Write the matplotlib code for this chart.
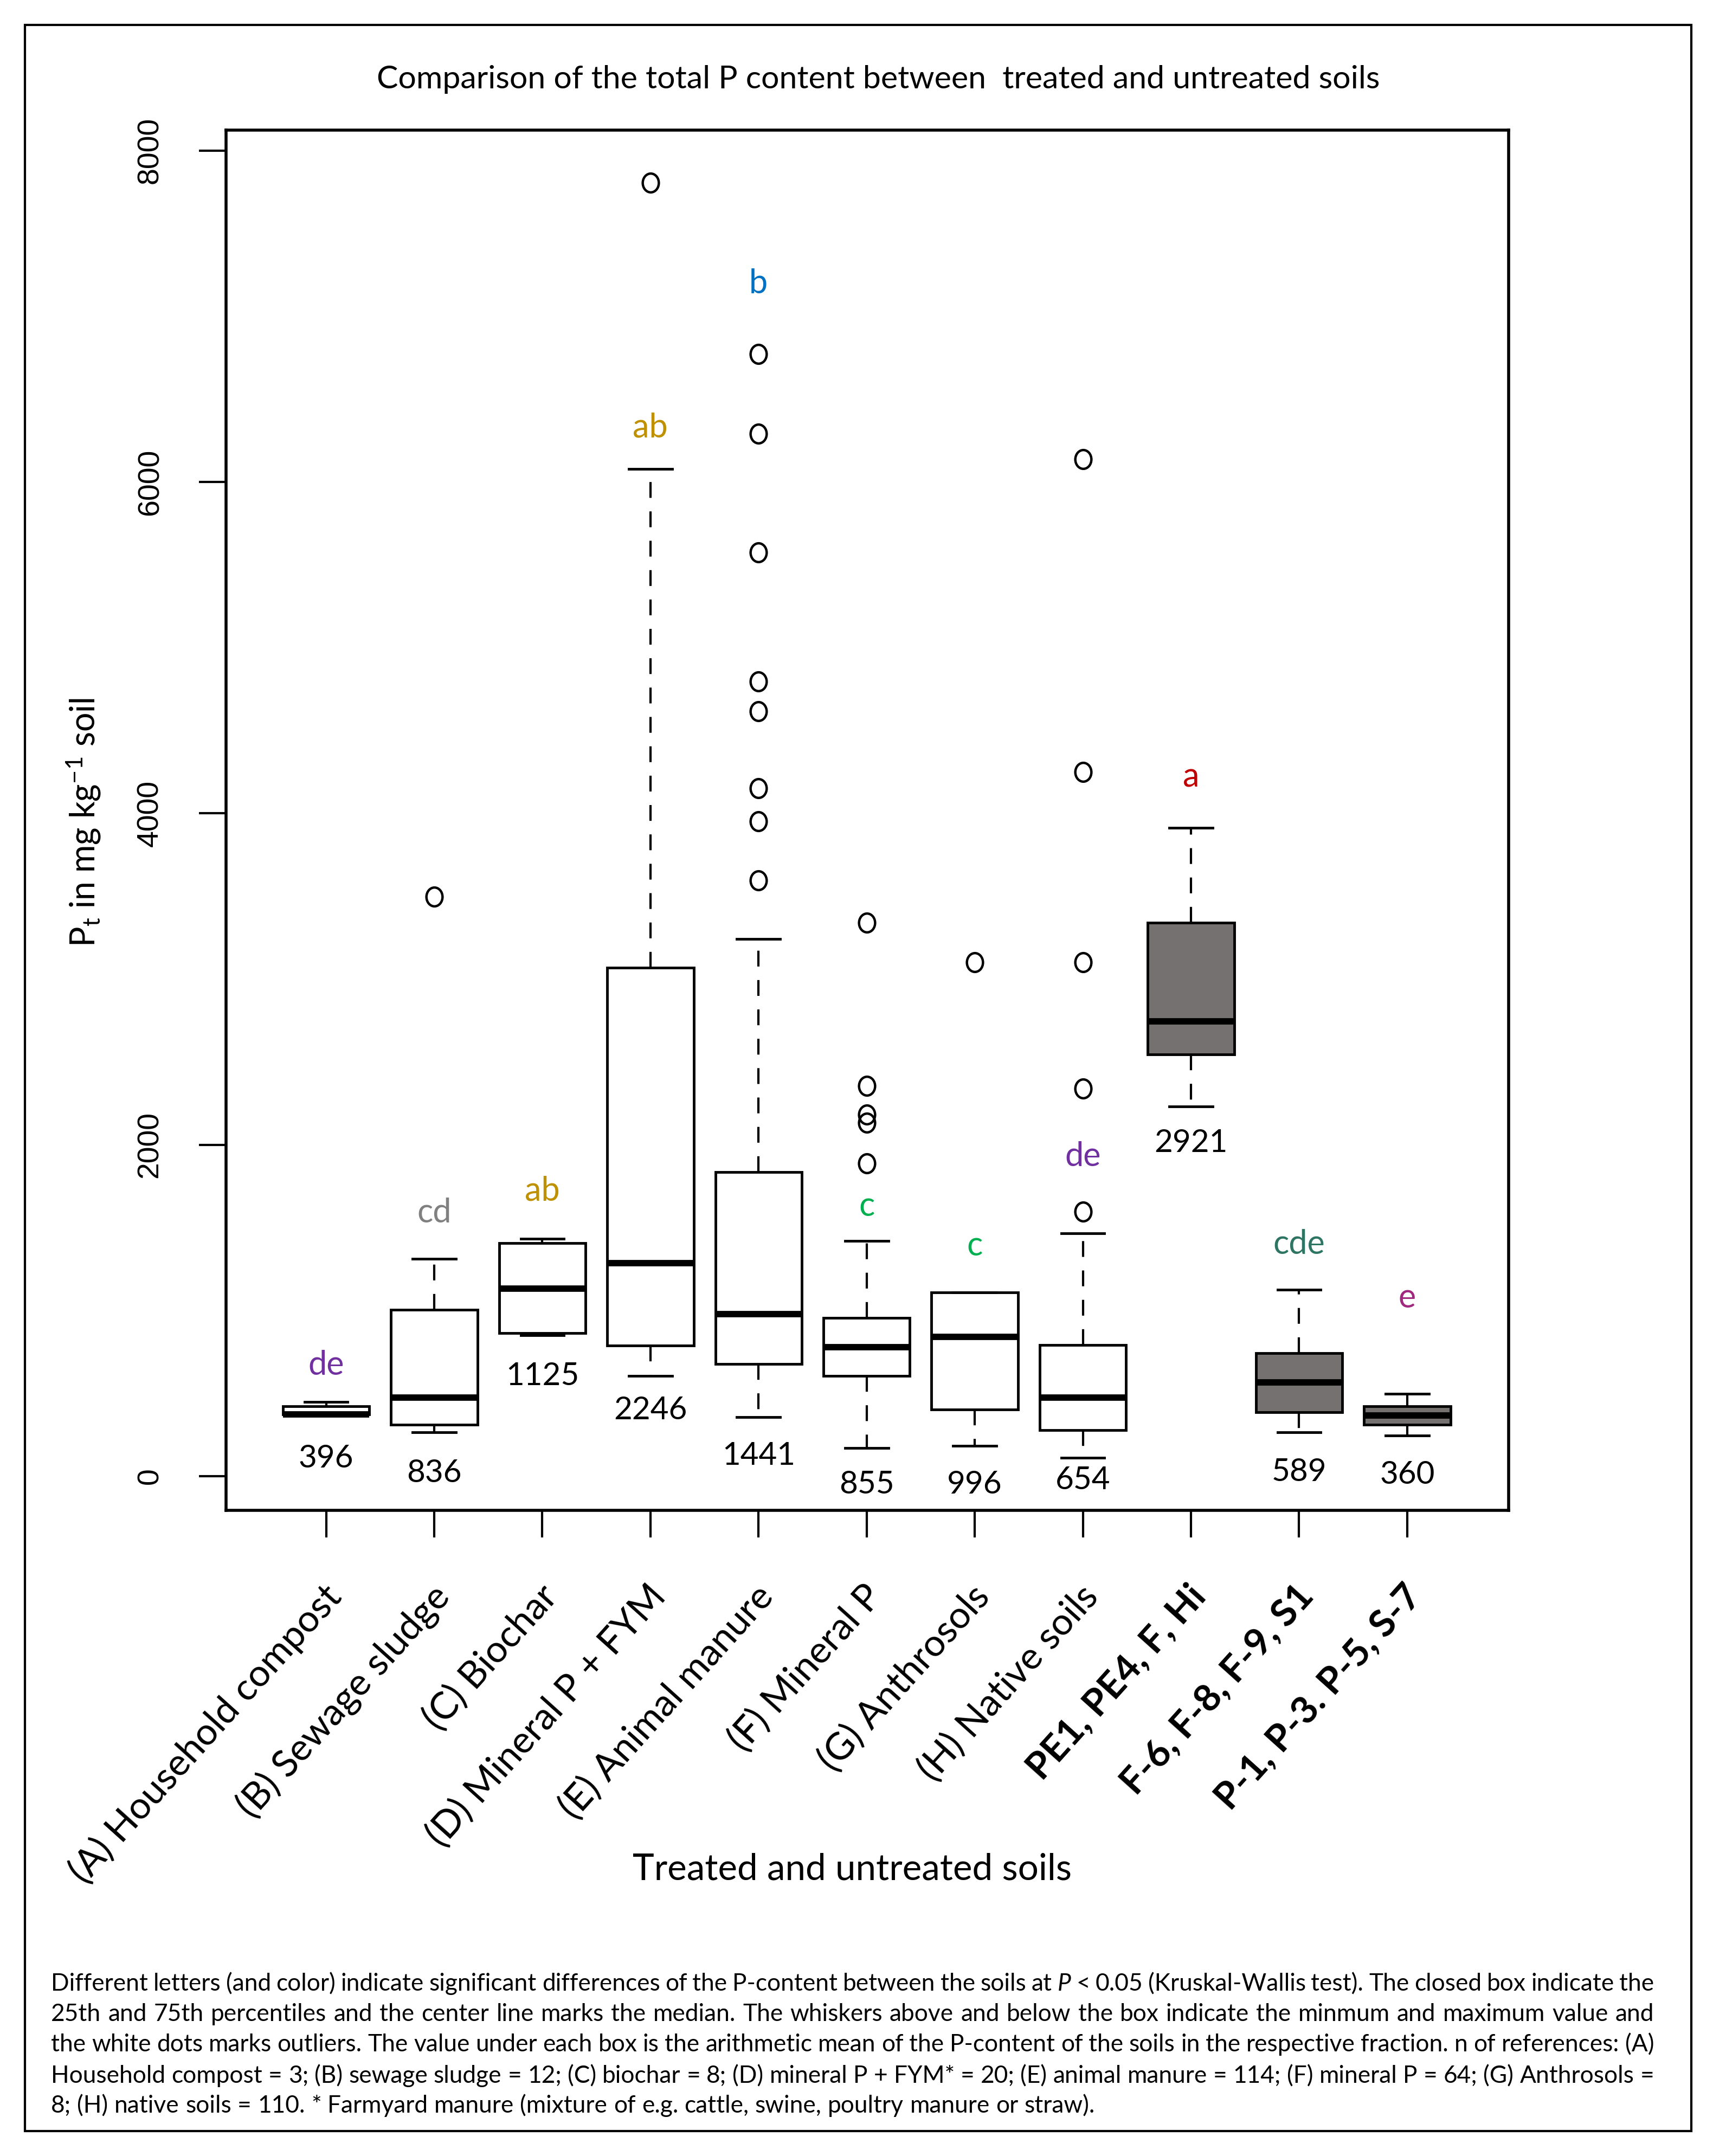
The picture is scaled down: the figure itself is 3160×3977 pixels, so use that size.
import matplotlib
matplotlib.use("Agg")
import matplotlib.pyplot as plt
from matplotlib.patches import Rectangle
from matplotlib.path import Path
from matplotlib.transforms import Affine2D, blended_transform_factory

# ---- data (mg/kg) ----
groups = ["(A) Household compost", "(B) Sewage sludge", "(C) Biochar",
          "(D) Mineral P + FYM", "(E) Animal manure", "(F) Mineral P",
          "(G) Anthrosols", "(H) Native soils", "PE1, PE4, F, Hi",
          "F-6, F-8, F-9, S1", "P-1, P-3. P-5, S-7"]
whis_low = [372, 264, 849, 604, 357, 171, 184, 110, 2232, 264, 245]
q1 = [372, 310, 862, 789, 678, 604, 403, 279, 2545, 386, 310]
median = [372, 474, 1133, 1287, 979, 780, 841, 474, 2746, 566, 366]
q3 = [421, 1005, 1406, 3068, 1835, 956, 1110, 791, 3341, 743, 421]
whis_high = [448, 1311, 1434, 6078, 3242, 1419, 1110, 1465, 3912, 1125, 496]
outliers = [[], [3498], [], [7807],
            [6773, 6293, 5574, 4797, 4615, 4151, 3953, 3597],
            [3341, 2357, 2183, 2134, 1886], [3101],
            [6136, 4251, 3101, 2340, 1596], [], [], []]
means = [396, 836, 1125, 2246, 1441, 855, 996, 654, 2921, 589, 360]
letters = ["de", "cd", "ab", "ab", "b", "c", "c", "de", "a", "cde", "e"]
measured = [False] * 8 + [True] * 3

letter_colors = {"de": "#7030A0", "cd": "#808080", "ab": "#BF9000",
                 "b": "#0070C0", "c": "#00B050", "a": "#C00000",
                 "cde": "#2E7563", "e": "#A0287E"}

plt.rcParams["mathtext.fontset"] = "custom"
plt.rcParams["mathtext.rm"] = "Lato"
plt.rcParams["mathtext.it"] = "Lato:italic"

W, H = 3160, 3977
fig = plt.figure(figsize=(W / 100, H / 100), dpi=100)
ax = fig.add_axes([165 / 1250, 1 - 1102 / 1573, 936 / 1250, 1007 / 1573])

# the original picture is slightly stretched vertically -> oval outlier marks
oval = Path.unit_circle().transformed(Affine2D().scale(1, 1.17))

pos = list(range(1, len(groups) + 1))
stats = []
for i in range(len(groups)):
    stats.append(dict(whislo=whis_low[i], q1=q1[i], med=median[i], q3=q3[i],
                      whishi=whis_high[i], fliers=outliers[i]))

bp = ax.bxp(stats, positions=pos, widths=0.8, capwidths=0.4, patch_artist=True,
            boxprops=dict(lw=3.5, edgecolor="black"),
            medianprops=dict(lw=8.5, color="black", solid_capstyle="butt"),
            whiskerprops=dict(lw=3, linestyle=(0, (7, 6)), color="black"),
            capprops=dict(lw=3.5, color="black"),
            flierprops=dict(marker=oval, markerfacecolor="none", markeredgecolor="black",
                            markersize=25, markeredgewidth=3.2))
for box, filled in zip(bp["boxes"], measured):
    box.set_facecolor("#767171" if filled else "white")

# letters and means (label heights placed as in the original figure)
letter_y = [670, 1588, 1720, 6327, 7195, 1629, 1389, 1927, 4218, 1398, 1075]
mean_y = [107, 17, 604, 397, 124, -50, -50, -25, 2010, 25, 8]
for p, lt, ly, m, my in zip(pos, letters, letter_y, means, mean_y):
    ax.text(p, ly, lt, ha="center", va="center", fontsize=44, family="Lato",
            color=letter_colors[lt])
    ax.text(p, my, str(m), ha="center", va="center", fontsize=42, family="Lato",
            color="black")

ax.set_xlim(0.075, 11.94)
ax.set_ylim(-207, 8123)
ax.set_yticks([0, 2000, 4000, 6000, 8000])
ax.set_yticklabels(["0", "2000", "4000", "6000", "8000"], rotation=90, va="center",
                   family="Liberation Sans", fontsize=40)
ax.set_xticks(pos)
ax.set_xticklabels([""] * len(pos))
ax.tick_params(axis="both", length=36, width=3, direction="out")
ax.tick_params(axis="y", pad=46)
for s in ax.spines.values():
    s.set_linewidth(4)

trans = blended_transform_factory(ax.transData, ax.transAxes)
for p, g, filled in zip(pos, groups, measured):
    ax.text(p + 0.08, -0.058, g, transform=trans, rotation=48, rotation_mode="anchor",
            ha="right", va="center", fontsize=50, family="Lato",
            fontweight="bold" if filled else "normal")

fig.text(641 / 1250, 1 - 58 / 1573, "Comparison of the total P content between  treated and untreated soils",
         ha="center", va="center", fontsize=42.5, family="Lato")
fig.text(622 / 1250, 1 - 1364 / 1573, "Treated and untreated soils",
         ha="center", va="center", fontsize=48.5, family="Lato")
fig.text(61 / 1250, 1 - 600 / 1573, r"P$_\mathrm{t}$ in mg kg$^{\mathrm{-1}}$ soil",
         ha="center", va="center", rotation=90, fontsize=45, family="Lato")

# outer frame
fig.patches.append(Rectangle((18 / 1250, 1 - 1555 / 1573), (1234 - 18) / 1250,
                             (1555 - 18) / 1573, transform=fig.transFigure,
                             fill=False, lw=3, edgecolor="black"))

# caption, justified
caption = [
    "Different letters (and color) indicate significant differences of the P-content between the soils at *P* < 0.05 (Kruskal-Wallis test). The closed box indicate the",
    "25th and 75th percentiles and the center line marks the median. The whiskers above and below the box indicate the minmum and maximum value and",
    "the white dots marks outliers. The value under each box is the arithmetic mean of the P-content of the soils in the respective fraction. n of references: (A)",
    "Household compost = 3; (B) sewage sludge = 12; (C) biochar = 8; (D) mineral P + FYM* = 20; (E) animal manure = 114; (F) mineral P = 64; (G) Anthrosols =",
    "8; (H) native soils = 110. * Farmyard manure (mixture of e.g. cattle, swine, poultry manure or straw).",
]
renderer = fig.canvas.get_renderer()
x0, x1 = 94, 3051
line_y = [3660, 3716, 3772, 3830, 3885]


def width_of(s, size, style="normal"):
    t = fig.text(0, 0, s, fontsize=size, family="Lato", fontstyle=style)
    w = t.get_window_extent(renderer).width
    t.remove()
    return w


cap_size = 28 * 1925 / width_of(caption[-1], 28)
space = width_of("a a", cap_size) - width_of("aa", cap_size)

for k, (line, yy) in enumerate(zip(caption, line_y)):
    words = line.split()
    arts = []
    for w in words:
        style = "normal"
        if w.startswith("*") and w.endswith("*") and len(w) > 2:
            w, style = w.strip("*"), "italic"
        arts.append(fig.text(0, 1 - (yy + 12) / H, w, fontsize=cap_size, family="Lato",
                             fontstyle=style, va="baseline", ha="left"))
    widths = [a.get_window_extent(renderer).width for a in arts]
    if k < len(caption) - 1:
        gap = (x1 - x0 - sum(widths)) / (len(words) - 1)
    else:
        gap = space
    x = x0
    for a, w in zip(arts, widths):
        a.set_x(x / W)
        x += w + gap

fig.savefig("out.png", dpi=100, facecolor="white")
